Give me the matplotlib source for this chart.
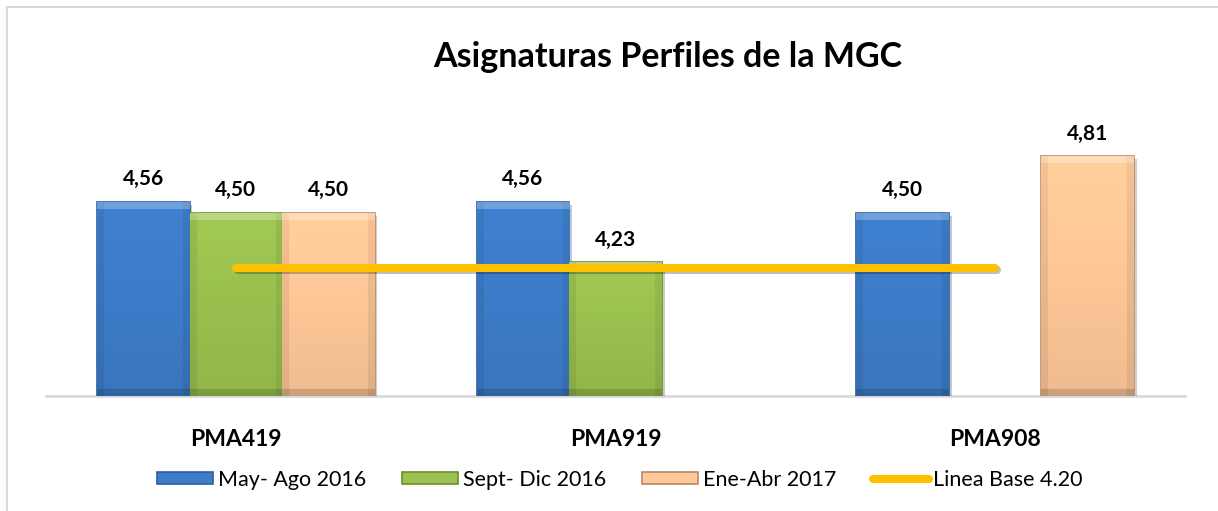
import numpy as np
import matplotlib
matplotlib.use("Agg")
import matplotlib.pyplot as plt
import matplotlib.patheffects as pe
from matplotlib.patches import Patch
from matplotlib.lines import Line2D
from matplotlib.colors import to_rgb

plt.rcParams["font.family"] = ["Lato", "DejaVu Sans"]

categories = ["PMA419", "PMA919", "PMA908"]
series_names = ["May- Ago 2016", "Sept- Dic 2016", "Ene-Abr 2017"]
may_ago_2016 = [4.56, 4.56, 4.50]
sept_dic_2016 = [4.50, 4.23, np.nan]
ene_abr_2017 = [4.50, np.nan, 4.81]
baseline_name = "Linea Base 4.20"
baseline_value = [4.20, 4.20, 4.20]

series = [may_ago_2016, sept_dic_2016, ene_abr_2017]
face_colors = ["#3D7DCA", "#9BC24F", "#FFC898"]
edge_colors = ["#2B5E9E", "#6F8C32", "#B8896A"]
line_color = "#FFC000"
YMIN, YMAX = 3.5, 5.0

fig = plt.figure(figsize=(12.18, 5.11), dpi=100)
ax = fig.add_axes([46 / 1218, 115 / 511, 1139 / 1218, 274.5 / 511])

# light frame of the chart area (only left and top edges are visible)
fx, fy = 6.5 / 1218, 1 - 7 / 511
fig.add_artist(Line2D([fx, fx], [0, fy], transform=fig.transFigure, color="#D9D9D9", lw=1.5))
fig.add_artist(Line2D([fx, 1], [fy, fy], transform=fig.transFigure, color="#D9D9D9", lw=1.5))

x = np.arange(len(categories))
width = 0.2436
offsets = [-width, 0, width]


def bevel_image(color, w, h, b=7):
    # simple bevel: light top band, dark bottom band, shaded sides
    base = np.array(to_rgb(color))
    img = np.ones((h, w, 3)) * base
    yy, xx = np.mgrid[0:h, 0:w]
    grad = 1.04 - 0.10 * (yy / max(h - 1, 1))
    img = img * grad[..., None]
    top = yy < b
    bot = yy >= h - b
    left = xx < b
    right = xx >= w - b
    img[left | right] *= 0.93
    img[bot] *= 0.85
    img[top] = img[top] * 0.75 + 0.25
    return np.clip(img, 0, 1)


bar_groups = []
for vals, off, fc, ec in zip(series, offsets, face_colors, edge_colors):
    heights = np.array(vals) - YMIN
    bars = ax.bar(x + off, heights, width, bottom=YMIN, color=fc, edgecolor=ec,
                  linewidth=1.2, zorder=2)
    bar_groups.append((bars, vals, fc))

ax.set_ylim(YMIN, YMAX)
ax.set_xlim(-0.5, 2.5)
fig.canvas.draw()

for bars, vals, fc in bar_groups:
    for rect, v in zip(bars, vals):
        if np.isnan(v):
            continue
        rect.set_path_effects([pe.SimplePatchShadow(offset=(2, -2), alpha=0.25), pe.Normal()])
        bb = rect.get_window_extent()
        w, h = max(int(bb.width), 2), max(int(bb.height), 2)
        img = bevel_image(fc, w, h)
        x0, y0 = rect.get_x(), rect.get_y()
        im = ax.imshow(img, extent=(x0, x0 + rect.get_width(), y0, y0 + rect.get_height()),
                       aspect="auto", zorder=2.5, interpolation="bilinear")
        im.set_clip_path(rect)
        ax.annotate(f"{v:.2f}".replace(".", ","), (rect.get_x() + rect.get_width() / 2, v),
                    xytext=(0, 12), textcoords="offset points", ha="center", va="baseline",
                    fontsize=15, fontweight="bold", color="black", zorder=5)

ax.plot(x, baseline_value, color=line_color, linewidth=5.8, solid_capstyle="round", zorder=4,
        path_effects=[pe.SimpleLineShadow(offset=(1.5, -1.5), alpha=0.25), pe.Normal()])

ax.set_ylim(YMIN, YMAX)
ax.set_xlim(-0.5, 2.5)
ax.set_xticks(x)
ax.set_xticklabels(categories, fontsize=16.5, fontweight="bold")
ax.tick_params(axis="x", length=0, pad=24)
ax.set_yticks([])
for s in ["top", "right", "left"]:
    ax.spines[s].set_visible(False)
ax.spines["bottom"].set_color("#D9D9D9")
ax.spines["bottom"].set_linewidth(2)
ax.spines["bottom"].set_zorder(1)

fig.text(0.548, 1 - 57 / 511, "Asignaturas Perfiles de la MGC", ha="center", va="center",
         fontsize=24.5, fontweight="bold")

handles = [Patch(facecolor=fc, edgecolor=ec, linewidth=1.2) for fc, ec in zip(face_colors, edge_colors)]
handles.append(Line2D([0], [0], color=line_color, linewidth=5.8, solid_capstyle="round"))
fig.legend(handles, series_names + [baseline_name], loc="center", bbox_to_anchor=(0.509, 1 - 480 / 511),
           ncol=4, frameon=False, fontsize=15.5, handlelength=2.6, handleheight=0.5,
           handletextpad=0.2, columnspacing=1.7)

fig.savefig("out.png", dpi=100)
